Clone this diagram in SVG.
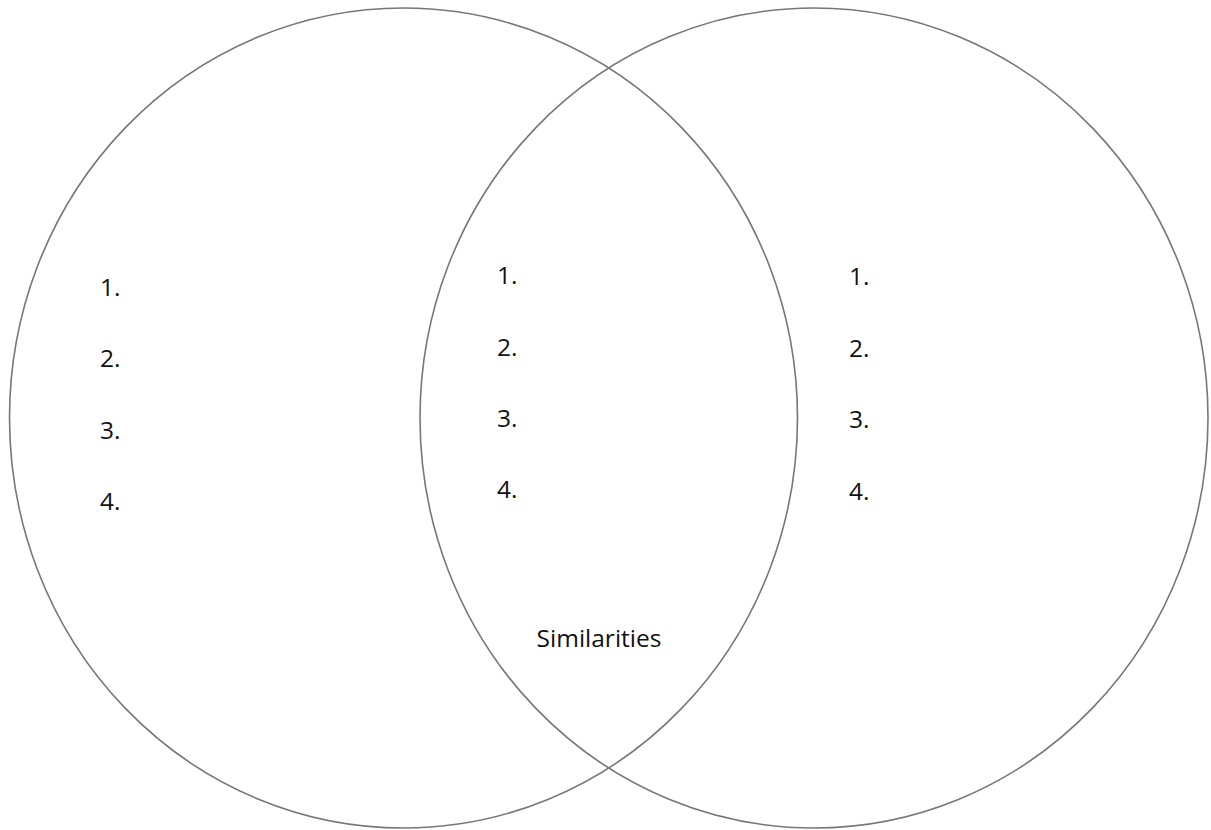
<svg xmlns="http://www.w3.org/2000/svg" width="1211" height="830" viewBox="0 0 1211 830">
<style>
.c{fill:none;stroke:#777;stroke-width:1.6}
.t{font-family:"Open Sans","Liberation Sans",Arial,sans-serif;font-size:24.5px;fill:#111}
</style>
<rect width="1211" height="830" fill="#fff"/>
<g id="left">
<ellipse class="c" cx="403.5" cy="418" rx="394" ry="410"/>
<text class="t" x="100" y="296">1.</text>
<text class="t" x="100" y="367">2.</text>
<text class="t" x="100" y="439">3.</text>
<text class="t" x="100" y="510">4.</text>
</g>
<g id="right">
<ellipse class="c" cx="814" cy="418" rx="394" ry="410"/>
<text class="t" x="849" y="285">1.</text>
<text class="t" x="849" y="357">2.</text>
<text class="t" x="849" y="428">3.</text>
<text class="t" x="849" y="500">4.</text>
</g>
<g id="middle">
<text class="t" x="497" y="284">1.</text>
<text class="t" x="497" y="356">2.</text>
<text class="t" x="497" y="427">3.</text>
<text class="t" x="497" y="498">4.</text>
<text class="t" x="599" y="647" text-anchor="middle">Similarities</text>
</g>
<g id="connectors"/>
</svg>
